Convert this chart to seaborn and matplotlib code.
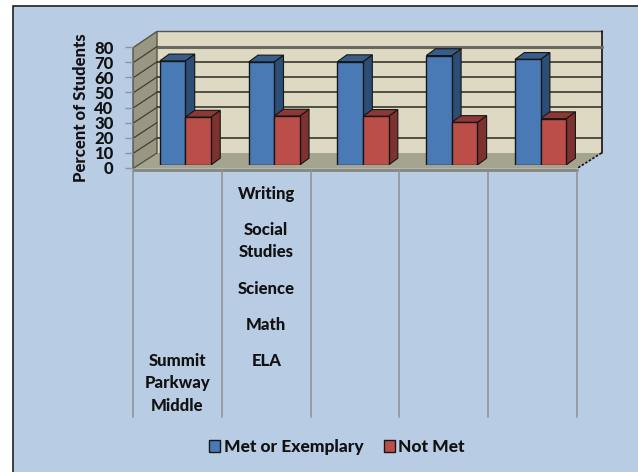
import matplotlib
matplotlib.use("Agg")
import matplotlib.pyplot as plt
from matplotlib.patches import Polygon, Rectangle
import pandas as pd
import seaborn as sns

# values
subjects = ["ELA", "Math", "Science", "Social Studies", "Writing"]
met = [68.5, 67.8, 68, 72, 69.5]
not_met = [31.5, 32.2, 32, 28, 30.5]
y_ticks = [0, 10, 20, 30, 40, 50, 60, 70, 80]
wall_lines = [10, 30, 40, 50, 60]
stacked_labels = [("Writing", 194), ("Social", 230), ("Studies", 252), ("Science", 289), ("Math", 325), ("ELA", 361)]
school_labels = [("Summit", 361), ("Parkway", 383), ("Middle", 406)]

W, H = 638, 472
BG = "#B8CCE4"
INK = "#111111"
sns.set_theme(style="white", rc={"axes.facecolor": "none"})
plt.rcParams["font.family"] = ["Lato", "DejaVu Sans"]
plt.rcParams["font.weight"] = 900

df = pd.DataFrame({"subject": subjects * 2,
                   "pct": met + not_met,
                   "status": ["Met or Exemplary"] * 5 + ["Not Met"] * 5})

fig = plt.figure(figsize=(W / 100, H / 100), dpi=100, facecolor="white")


def px_axes(left, right, top, bottom):
    return fig.add_axes([left / W, 1 - bottom / H, (right - left) / W, (bottom - top) / H])


# 3d box drawn in pixel coords
bg = fig.add_axes([0, 0, 1, 1])
bg.set_xlim(0, W)
bg.set_ylim(H, 0)
bg.axis("off")

# chart area runs off the right and bottom of the picture
bg.add_patch(Rectangle((12.5, 5.5), W, H, fc=BG, ec="#1c2326", lw=1.2))

fx0, fx1, fy = 133, 577, 168.5   # front floor edge
bx0, bx1, by = 157, 601.5, 153   # back wall bottom
scale = 1.52
wall_top = by - 80 * scale

bg.add_patch(Polygon([(bx0, by), (bx1, by), (bx1, wall_top), (bx0, wall_top)], fc="#DDD9C3", ec="none"))
bg.add_patch(Polygon([(fx0, fy), (bx0, by), (bx1, by), (fx1, fy)], fc="#A5A58F", ec="none"))
bg.add_patch(Polygon([(fx0, fy), (bx0, by), (bx0, wall_top), (fx0, fy - 80 * 1.51)], fc="#979784", ec="#555548", lw=1))
bg.plot([bx0, bx1], [wall_top, wall_top], color="#555548", lw=1)
bg.plot([bx1, bx1], [wall_top, by], color="#111111", lw=1.2)
bg.plot([bx1, fx1], [by, fy], color="#111111", lw=1.2, ls=(0, (1.5, 1)))
bg.plot([fx0, fx1], [fy + 1, fy + 1], color="#85857a", lw=2)

for v in wall_lines:
    bg.plot([bx0, bx1], [by - v * scale] * 2, color="#2a2a22", lw=1.1)
bg.plot([bx0, bx1], [by - 70 * scale] * 2, color="#6a6a5c", lw=2.2)
for v in y_ticks[1:-1]:
    bg.plot([fx0, bx0], [fy - v * 1.51, by - v * scale], color="#3f3f36", lw=0.9)

# category separators under the floor
step = (fx1 - fx0) / 5
for i in range(6):
    x = fx0 + i * step
    bg.plot([x, x], [fy + 2, 417], color="#8f949b", lw=1.2)

for txt, y in school_labels:
    bg.text(fx0 + step / 2, y, txt, ha="center", va="center", fontsize=12, color=INK)
for txt, y in stacked_labels:
    bg.text(fx0 + step * 1.5, y, txt, ha="center", va="center", fontsize=12, color=INK)

# left value axis
left = px_axes(fx0, fx0 + 1, 47, 168)
left.set_ylim(0, 80)
left.set_yticks(y_ticks)
left.set_xticks([])
left.tick_params(axis="y", length=6, width=1, color="#8f949b", labelsize=12, labelcolor=INK, pad=8, left=True)
left.set_ylabel("Percent of Students", fontsize=12, fontweight=900, color=INK, labelpad=3.5)
sns.despine(ax=left, left=True, bottom=True)

# bars
ax = px_axes(141, 585, 165 - 80 * scale, 165)
sns.barplot(data=df, x="subject", y="pct", hue="status", order=subjects,
            palette=["#4A7AB5", "#BC4E4A"], width=0.575, gap=0, saturation=1,
            edgecolor="#161616", linewidth=1, zorder=3, ax=ax)
ax.set_ylim(0, 80)
ax.axis("off")

dx = 9.3 / step
dy = 6.8 / scale
sides = {0: ("#2C4D75", "#385D8A"), 1: ("#7D322F", "#8C3836")}
for s, cont in enumerate(ax.containers):
    side_c, top_c = sides[s]
    for p in cont:
        x0, x1 = p.get_x(), p.get_x() + p.get_width()
        h = p.get_height()
        ax.add_patch(Polygon([(x1, 0), (x1 + dx, dy), (x1 + dx, h + dy), (x1, h)],
                             fc=side_c, ec="#161616", lw=0.8, zorder=1 + s * 0.5))
        ax.add_patch(Polygon([(x0, h), (x0 + dx, h + dy), (x1 + dx, h + dy), (x1, h)],
                             fc=top_c, ec="#161616", lw=0.8, zorder=1 + s * 0.5))

handles, labels = ax.get_legend_handles_labels()
ax.get_legend().remove()
fig.legend(handles, labels, loc="center", bbox_to_anchor=(337 / W, 1 - 447 / H), ncol=2, frameon=False,
           fontsize=12.5, handlelength=0.65, handleheight=0.65, handletextpad=0.2, columnspacing=1.15,
           labelcolor=INK)

fig.savefig("out.png", dpi=100, facecolor="white")
